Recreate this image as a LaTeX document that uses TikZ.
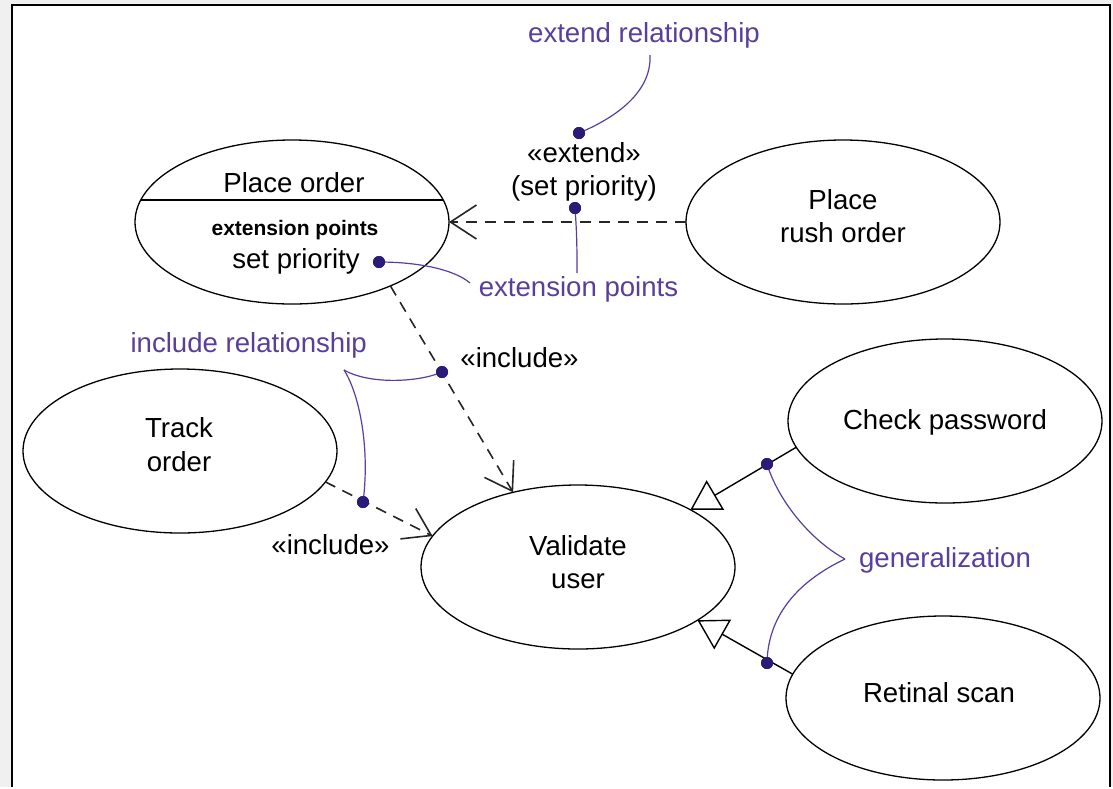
\documentclass[tikz,border=0pt]{standalone}
\usepackage{fontspec}
\setmainfont{Liberation Sans}
\usetikzlibrary{shapes.geometric,arrows.meta}
\definecolor{outside}{HTML}{F0F0F0}
\definecolor{calloutink}{HTML}{5A3E9C}
\definecolor{dotink}{HTML}{2B1B78}
\definecolor{depink}{HTML}{262626}

\begin{document}
\begin{tikzpicture}[x=1pt,y=-1pt,
  usecase/.style={draw, ellipse, line width=1.3pt, minimum width=314pt,
    minimum height=164pt, inner sep=0pt, outer sep=0pt},
  txt/.style={inner sep=0pt, font=\fontsize{27.6}{33}\selectfont, align=center},
  calltxt/.style={txt, text=calloutink},
  dep/.style={draw=depink, line width=1.6pt, dash pattern=on 11pt off 8pt,
    -{Straight Barb[length=26pt, width=34pt]}},
  gen/.style={draw=black, line width=1.4pt,
    -{Triangle[length=29pt, width=34pt, fill=white]}},
  callout/.style={draw=calloutink, line width=1.2pt},
  dotmark/.style={circle, fill=dotink, inner sep=0pt, minimum size=12pt},
]
% page and frame
\fill[outside] (0,0) rectangle (1113,787);
\fill[white] (12,5) rectangle (1110,787);
\draw[line width=2.2pt] (12,787) -- (12,5) -- (1110,5) -- (1110,787);
\useasboundingbox (0,0) rectangle (1113,787);

% use cases
\node[usecase] (po) at (292,222) {};
\node[usecase] (pr) at (843,222) {};
\node[usecase] (tr) at (180,451) {};
\node[usecase] (vu) at (578,567) {};
\node[usecase] (cp) at (945,421) {};
\node[usecase] (rs) at (943,698) {};

% compartment line of Place order
\draw[line width=1.3pt] (140.7,200) -- (443.3,200);

% texts in the use cases
\node[txt] (pot) at (294,182.7) {Place order};
\node[inner sep=0pt, font=\fontsize{21}{25}\selectfont\bfseries] (poe) at (295,230.5) {extension points};
\node[txt] (pos) at (296,261) {set priority};
\node[txt] (prt) at (843,216.5) {Place\\rush order};
\node[txt, font=\fontsize{27.6}{34}\selectfont] (trt) at (179,445) {Track\\order};
\node[txt] (vut) at (578,562) {Validate\\user};
\node[txt] (cpt) at (945,422) {Check password};
\node[txt] (rst) at (939,693) {Retinal scan};

% relationships
\draw[dep] (pr.180) -- (po.0);
\draw[dep] (po.-33.4) -- (vu.131);
\draw[dep] (tr.-12.2) -- (vu.168.6);
\draw[gen] (cp.190.8) -- (vu.27.2);
\draw[gen] (rs.171.8) -- (vu.-24.8);

% relationship labels
\node[txt] (ext) at (584,171.4) {«extend»\\(set priority)};
\node[txt, anchor=base] (inc1) at (519.5,367) {«include»};
\node[txt, anchor=base] (inc2) at (330.5,554) {«include»};

% annotation labels
\node[calltxt, anchor=base] (nrel) at (644,42.7) {extend relationship};
\node[calltxt, anchor=base] (npts) at (578.5,296) {extension points};
\node[calltxt, anchor=base] (ninc) at (248.7,352) {include relationship};
\node[calltxt, anchor=base] (ngen) at (945,567) {generalization};

% annotation pins
\node[dotmark] (dext) at (579,133) {};
\node[dotmark] (dpt) at (575,208) {};
\node[dotmark] (dsp) at (379,262) {};
\node[dotmark] (dinc1) at (442,372) {};
\node[dotmark] (dinc2) at (363,502) {};
\node[dotmark] (dgen1) at (767,464) {};
\node[dotmark] (dgen2) at (767,663) {};

\coordinate (crel) at (650,55);
\coordinate (cpts1) at (577,273);
\coordinate (cpts2) at (470,283);
\coordinate (cinc) at (344,370);
\coordinate (cgen) at (845,559);

% annotation leaders
\draw[callout] (dext.center) .. controls (610,120) and (652,95) .. (crel);
\draw[callout] (dpt.center) .. controls (577,235) and (577,250) .. (cpts1);
\draw[callout] (dsp.center) .. controls (420,262) and (455,270) .. (cpts2);
\draw[callout] (cinc) .. controls (370,385) and (420,382) .. (dinc1.center);
\draw[callout] (cinc) .. controls (360,395) and (370,450) .. (dinc2.center);
\draw[callout] (dgen1.center) .. controls (778,500) and (810,540) .. (cgen);
\draw[callout] (cgen) .. controls (805,578) and (768,610) .. (dgen2.center);

% pins on top
\foreach \d in {dext,dpt,dsp,dinc1,dinc2,dgen1,dgen2}
  \fill[dotink] (\d) circle (6pt);
\end{tikzpicture}
\end{document}
